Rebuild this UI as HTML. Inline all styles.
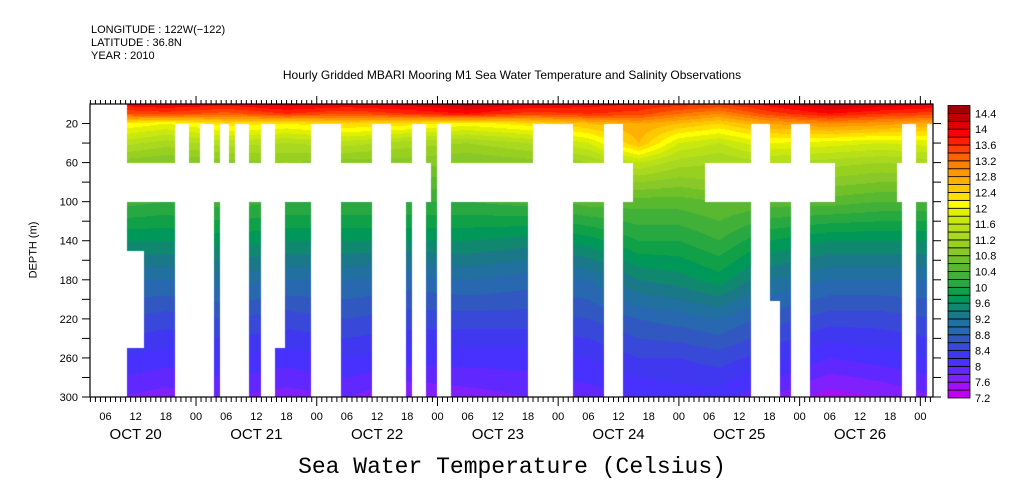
<!DOCTYPE html>
<html><head><meta charset="utf-8"><style>
body{margin:0;background:#fff;}
#wrap{position:relative;width:1009px;height:504px;overflow:hidden;background:#fff;font-family:"Liberation Sans",sans-serif;}
.t{position:absolute;font-size:11px;color:#000;white-space:nowrap;line-height:11px;}
canvas{position:absolute;left:0;top:0;}
svg{position:absolute;left:0;top:0;}
</style></head><body>
<div id="wrap">
<div class="t" style="left:91px;top:25px">LONGITUDE : 122W(−122)</div>
<div class="t" style="left:91px;top:38px">LATITUDE : 36.8N</div>
<div class="t" style="left:91px;top:51px">YEAR : 2010</div>
<div class="t" style="left:0;width:1024px;text-align:center;top:70px;font-size:12px">Hourly Gridded MBARI Mooring M1 Sea Water Temperature and Salinity Observations</div>
<canvas id="cv" width="1009" height="504"></canvas>
<svg id="sv" width="1009" height="504"></svg>
<div class="t" style="left:0;width:1024px;text-align:center;top:455px;font-family:'Liberation Mono',monospace;font-size:23px;line-height:24px">Sea Water Temperature (Celsius)</div>
<div class="t" style="left:34px;top:250px;transform:translate(-50%,-50%) rotate(-90deg);transform-origin:center;font-size:11px">DEPTH (m)</div>
</div>
<script>
// hours since Oct 20 00:00
const times=[9,18,30,42,54,66,78,90,102,112,120,128,138,150,160,171];
const depths=[0,10,20,40,60,80,100,140,180,220,260,300];
const temp=[
[13.9,14.0,13.9,14.1,14.0,14.1,14.3,14.0,13.9,13.8,13.7,13.6,13.9,14.3,14.2,14.0],
[13.4,13.5,13.3,13.6,13.4,13.6,13.8,13.5,13.6,13.5,13.2,13.0,13.5,13.8,13.6,13.5],
[12.2,12.0,12.3,12.2,12.4,12.3,12.1,12.3,12.6,12.8,12.6,12.4,12.8,13.0,12.9,12.7],
[11.5,11.3,11.5,11.4,11.5,11.3,11.2,11.4,11.8,12.6,11.8,11.6,12.0,11.9,11.8,11.9],
[10.9,10.8,10.9,11.0,10.9,10.9,10.8,10.9,11.2,11.6,11.3,11.2,11.4,11.3,11.2,11.3],
[10.6,10.5,10.6,10.6,10.5,10.5,10.5,10.6,10.9,11.0,10.9,11.0,11.0,10.9,10.8,10.8],
[10.3,10.2,10.3,10.2,10.2,10.2,10.2,10.3,10.5,10.5,10.5,10.6,10.5,10.5,10.4,10.4],
[9.6,9.6,9.7,9.6,9.6,9.6,9.6,9.5,9.7,10.0,10.0,10.2,9.8,9.6,9.6,9.6],
[9.0,9.0,9.1,9.0,9.0,8.9,9.0,8.9,9.0,9.4,9.5,9.7,9.2,9.0,9.0,9.0],
[8.6,8.5,8.6,8.5,8.6,8.5,8.5,8.5,8.6,8.8,8.9,9.0,8.7,8.5,8.5,8.6],
[8.2,8.1,8.2,8.1,8.2,8.1,8.1,8.1,8.2,8.4,8.4,8.5,8.3,8.0,8.1,8.2],
[7.8,7.7,7.8,7.7,7.8,7.6,7.7,7.8,7.9,8.0,8.1,8.1,7.8,7.5,7.6,7.8]];
// missing data rectangles: [hourStart, hourEnd, depthTop, depthBottom]
const gaps=[
[-4,10.3,0,300],
[19.8,22.6,20,60],[24.8,27.6,20,60],[28.8,30.6,20,60],[31.8,34.5,20,60],[36.9,39.7,20,60],[46.9,52.8,20,60],
[59,62.7,20,60],[66.9,69.7,20,60],[71.9,74.7,20,60],[91,98.9,20,60],[105.1,108.9,20,60],[134.3,138.1,20,60],
[142.3,146.1,20,60],[164.4,167.2,20,60],[169.3,172,20,60],
[10.3,70.7,60,100],[71.9,110.9,60,100],[125.2,151,60,100],[163.4,172,60,100],
[10.3,13.7,150,250],[19.8,27.6,100,300],[28.8,34.5,100,300],[36.9,39.7,100,300],[39.7,41.7,100,250],
[46.9,52.8,100,300],[59,65.7,100,300],[66.9,69.7,100,300],[71.9,74.7,100,300],[90,98.9,100,300],
[105.1,108.9,100,300],[134.3,138.1,100,300],[138.1,140.1,202,300],[142.3,146.1,100,300],[164.4,167.2,100,300],[169.3,172,100,300]];
const levelColors=['#c000f0','#a010f8','#8020ff','#6028ff','#4830ff','#4038f0','#3848d8','#3058c0','#2868b0','#2070a0','#1a7888','#108870','#009858','#10a048','#28a840','#40b038','#58b830','#70c028','#88c828','#98d020','#a8d820','#b8e018','#c8e810','#e0f000','#ffff00','#ffe000','#ffc800','#ffb000','#ff9800','#ff8000','#ff6000','#ff4000','#ff2000','#ff0000','#e00000','#c00000','#a00000'];
const cbLabels=['7.2','7.6','8','8.4','8.8','9.2','9.6','10','10.4','10.8','11.2','11.6','12','12.4','12.8','13.2','13.6','14','14.4'];
const yTicks=[20,60,100,140,180,220,260,300];
const hourLabels=['06','12','18','00'];
const dayLabels=['OCT 20','OCT 21','OCT 22','OCT 23','OCT 24','OCT 25','OCT 26'];

const L=90,R=933,T=104,B=397;
const X0=75.3,PXH=5.03;
const xs=h=>X0+h*PXH;
const ys=d=>T+(B-T)*d/300;
const hx=x=>(x-X0)/PXH;
const dy=y=>(y-T)/(B-T)*300;
function seg(arr,v){let i=0;while(i<arr.length-2&&v>arr[i+1])i++;let f=(v-arr[i])/(arr[i+1]-arr[i]);f=Math.max(0,Math.min(1,f));return [i,f];}
function val(h,d){const [i,fi]=seg(times,h),[j,fj]=seg(depths,d);
 const a=temp[j][i],b=temp[j][i+1],c=temp[j+1][i],e=temp[j+1][i+1];
 return (a*(1-fi)+b*fi)*(1-fj)+(c*(1-fi)+e*fi)*fj;}
const ctx=document.getElementById('cv').getContext('2d');
for(let x=L;x<R;x+=1){for(let y=T;y<B;y+=1){
 const v=val(hx(x+0.5),dy(y+0.5));let k=Math.floor((v-7.2)/0.2+1e-6);k=Math.max(0,Math.min(levelColors.length-1,k));
 ctx.fillStyle=levelColors[k];ctx.fillRect(x,y,1,1);}}
ctx.fillStyle='#fff';
gaps.forEach(g=>{const x1=Math.round(Math.max(L,xs(g[0]))),x2=Math.round(Math.min(R,xs(g[1])));
 const y1=Math.round(ys(g[2])),y2=Math.round(ys(g[3]));ctx.fillRect(x1,y1,x2-x1,y2-y1);});

const NS='http://www.w3.org/2000/svg',sv=document.getElementById('sv');
function el(t,a,txt){const e=document.createElementNS(NS,t);for(const k in a)e.setAttribute(k,a[k]);if(txt!==undefined)e.textContent=txt;sv.appendChild(e);return e;}
let e=el('rect',{x:L,y:T,width:R-L,height:B-T,fill:'none',stroke:'#000','stroke-width':1.2});


for(let h=Math.ceil(hx(L));xs(h)<=R;h++){const x=xs(h);const maj=h%24===0;
 el('line',{x1:x,x2:x,y1:T,y2:T-(maj?8:4),stroke:'#000'});
 el('line',{x1:x,x2:x,y1:B,y2:B+(maj?9:5),stroke:'#000'});
 if(h%6===0){e=el('text',{x:x,y:420,'text-anchor':'middle','font-size':11,'font-family':'Liberation Sans'},hourLabels[(h/6+3)%4]);
  
  }
 if(h%24===12&&(h-12)/24<dayLabels.length){e=el('text',{x:x,y:439,'text-anchor':'middle','font-size':15,'font-family':'Liberation Sans'},dayLabels[(h-12)/24]);
  
  }
}
for(let d=20;d<=300;d+=20){const y=ys(d);
 el('line',{x1:L-8,x2:L,y1:y,y2:y,stroke:'#000'});el('line',{x1:R,x2:R+8,y1:y,y2:y,stroke:'#000'});}
yTicks.forEach(d=>{e=el('text',{x:L-12,y:ys(d)+4,'text-anchor':'end','font-size':11,'font-family':'Liberation Sans'},String(d));
 
 });
// colorbar
const cbT=105.5,cbB=398,n=levelColors.length,bh=(cbB-cbT)/n;
levelColors.forEach((c,k)=>{e=el('rect',{x:948,y:cbB-(k+1)*bh,width:22,height:bh,fill:c,stroke:'#000','stroke-width':0.8});
 
 });
cbLabels.forEach((s,i)=>{e=el('text',{x:975,y:cbB-i*2*bh+4,'font-size':11,'font-family':'Liberation Sans'},s);
 
 });
</script>
</body></html>
